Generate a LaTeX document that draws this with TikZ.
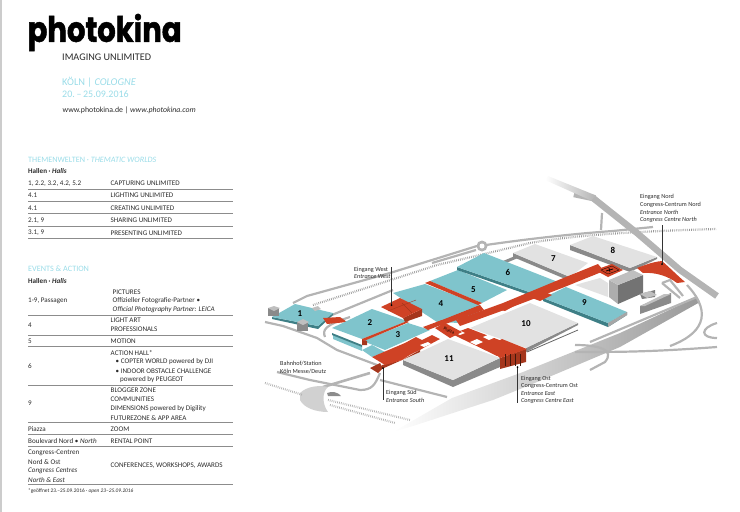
\documentclass[tikz,border=0pt]{standalone}
\usepackage{fontspec}
\setmainfont{Carlito}
\newfontfamily\logofont[BoldFeatures={FakeBold=1.6}]{Poppins}
\definecolor{tealtop}{HTML}{7FC4CC}
\definecolor{tealside}{HTML}{3E7F86}
\definecolor{greytop}{HTML}{E2E2E2}
\definecolor{greyside}{HTML}{8A8A8A}
\definecolor{redtop}{HTML}{CF4225}
\definecolor{redside}{HTML}{A5361C}
\definecolor{roadgrey}{HTML}{B4B4B4}
\definecolor{headcyan}{HTML}{9ADCE8}
\definecolor{rulegrey}{HTML}{8C8C8C}
\definecolor{txt}{HTML}{2B2B2B}
\tikzset{
  cell/.style={anchor=west,inner sep=0pt,font=\fontsize{7.1}{7.5}\selectfont,text=txt},
  head/.style={anchor=west,inner sep=0pt,font=\fontsize{8.2}{9}\selectfont,text=headcyan},
  lbl/.style={anchor=west,inner sep=0pt,font=\fontsize{6.2}{6.5}\selectfont,text=txt},
  hallno/.style={inner sep=0pt,font=\fontsize{9}{10}\selectfont\bfseries,text=black},
  road/.style={roadgrey,line width=2.2pt},
  rail/.style={black!40,line width=2.2pt,dash pattern=on 0.7pt off 1.2pt},
  leader/.style={black!80,line width=0.7pt}
}
\begin{document}
\begin{tikzpicture}[x=1pt,y=-1pt]
  \useasboundingbox (0,0) rectangle (740,512);
  \fill[black!20] (0,0) rectangle (1.6,512);
  \node[anchor=west,inner sep=0pt,xscale=0.83,font=\logofont\bfseries\fontsize{35}{37}\selectfont,text=black] (logo) at (27.5,32.5) {photokina};
  \node[anchor=west,inner sep=0pt,font=\fontsize{10.2}{11}\selectfont,text=txt] (claim) at (62,57.5) {IMAGING UNLIMITED};
  \node[head,font=\fontsize{10.4}{11}\selectfont] (city) at (62,82) {KÖLN | \textit{COLOGNE}};
  \node[head,font=\fontsize{10}{11}\selectfont] (dates) at (62,94) {20.\,–\,25.09.2016};
  \node[cell,font=\fontsize{7.8}{8}\selectfont] (web) at (62.5,110.5) {www.photokina.de | \textit{www.photokina.com}};

  \node[head] (themes) at (28,159.5) {THEMENWELTEN · \textit{THEMATIC WORLDS}};
  \node[cell] (halls1) at (28,171.3) {\textbf{Hallen · \textit{Halls}}};
  \node[cell] (a1) at (28,183.3) {1, 2.2, 3.2, 4.2, 5.2};
  \node[cell] (b1) at (110.5,183.3) {CAPTURING UNLIMITED};
  \node[cell] (a2) at (28,195.7) {4.1};
  \node[cell] (b2) at (110.5,195.7) {LIGHTING UNLIMITED};
  \node[cell] (a3) at (28,208.3) {4.1};
  \node[cell] (b3) at (110.5,208.3) {CREATING UNLIMITED};
  \node[cell] (a4) at (28,220.7) {2.1, 9};
  \node[cell] (b4) at (110.5,220.7) {SHARING UNLIMITED};
  \node[cell] (a5) at (28,233) {3.1, 9};
  \node[cell] (b5) at (110.5,233) {PRESENTING UNLIMITED};

  \node[head] (events) at (28,268.3) {EVENTS \& ACTION};
  \node[cell] (halls2) at (28,280.7) {\textbf{Hallen · \textit{Halls}}};
  \node[cell] (c1) at (28,301) {1-9, Passagen};
  \node[cell] (d1) at (112.5,292) {PICTURES};
  \node[cell] (d2) at (112.5,301) {Offizieller Fotografie-Partner •};
  \node[cell] (d3) at (112.5,310) {\textit{Official Photography Partner: LEICA}};
  \node[cell] (c2) at (28,325) {4};
  \node[cell] (d4) at (110.5,320.3) {LIGHT ART};
  \node[cell] (d5) at (110.5,329.7) {PROFESSIONALS};
  \node[cell] (c3) at (28,341.3) {5};
  \node[cell] (d6) at (110.5,341.3) {MOTION};
  \node[cell] (c4) at (28,366) {6};
  \node[cell] (d7) at (110.5,352.7) {ACTION HALL*};
  \node[cell] (d8) at (115.5,361.7) {• COPTER WORLD powered by DJI};
  \node[cell] (d9) at (115.5,371) {• INDOOR OBSTACLE CHALLENGE};
  \node[cell] (d10) at (120,380) {powered by PEUGEOT};
  \node[cell] (c5) at (28,403.5) {9};
  \node[cell] (d11) at (110.5,390.7) {BLOGGER ZONE};
  \node[cell] (d12) at (110.5,399) {COMMUNITIES};
  \node[cell] (d13) at (110.5,408.7) {DIMENSIONS powered by Digility};
  \node[cell] (d14) at (110.5,417.7) {FUTUREZONE \& APP AREA};
  \node[cell] (c6) at (28,429) {Piazza};
  \node[cell] (d15) at (110.5,429) {ZOOM};
  \node[cell] (c7) at (28,441) {Boulevard Nord • \textit{North}};
  \node[cell] (d16) at (110.5,441) {RENTAL POINT};
  \node[cell] (c8) at (28,452.7) {Congress-Centren};
  \node[cell] (c9) at (28,461.7) {Nord \& Ost};
  \node[cell] (c10) at (28,470.7) {\textit{Congress Centres}};
  \node[cell] (c11) at (28,480) {\textit{North \& East}};
  \node[cell] (d17) at (110.5,466) {CONFERENCES, WORKSHOPS, AWARDS};
  \node[cell,font=\fontsize{5.4}{6}\selectfont] (foot) at (28,490.7) {*geöffnet 23.–25.09.2016 · \textit{open 23–25.09.2016}};
  \foreach \y in {189.3,201.7,213.7,226.3,238.7,315,335,346.7,385,422.3,434.3,446.3,484.3}
    \draw[rulegrey,line width=0.7pt] (28,\y) -- (233,\y);

  % roads and rails
  \shade[left color=white,right color=roadgrey!85!black] (393,432) -- (452,398) -- (523,372) -- (620,333) -- (697,297) -- (700,302) -- (620,347) -- (530,385) -- (493,400) -- (413,426) -- cycle;
  \draw[road] (293,303) -- (307,296) -- (390,273) -- (432,260) -- (477,246);
  \draw[road] (327,317) -- (393,290);
  \draw[road] (432,263) -- (476,250);
  \draw[road] (486,245) .. controls (520,240) and (570,234) .. (613,231) -- (653,227);
  \fill[roadgrey] (482,246) circle (5.5);
  \fill[white] (482,246) circle (2.5);
  \draw[rail] (313,305) -- (397,278) -- (437,265) -- (480,255) -- (530,243) .. controls (580,234) and (650,231) .. (716,229);
  \draw[road] (602,213) -- (601,230);
  \draw[road] (265,322) -- (283,326) -- (317,338) -- (337,350) -- (377,365);
  \draw[road] (325,337) .. controls (322,330) and (325,325) .. (350,317);
  \draw[road] (277,372) -- (310,380) -- (360,390) .. controls (372,390) and (375,385) .. (380,373);
  \draw[roadgrey,line width=2.6pt] (323,387) -- (370,373);
  \draw[road] (380,380) -- (447,397);
  \fill[black!18] (300,393) .. controls (307,386) and (320,385) .. (328,387) .. controls (322,392) and (322,404) .. (328,412) .. controls (316,412) and (304,408) .. (300,400) -- cycle;
  \fill[black!45] (327,393) .. controls (332,391) and (338,392) .. (341,396) -- (328,396) -- cycle;
  \draw[rail,black!30] (265,383) -- (303,395);
  \draw[rail,black!30] (328,400) -- (410,420);
  \draw[rail,black!30] (330,405) -- (395,423);
  \draw[road] (590,342) -- (697,297);
  \draw[road] (575,352) .. controls (620,352) and (650,352) .. (717,347);
  \draw[road] (670,346) .. controls (700,335) and (715,315) .. (687,285);
  \draw[road] (575,345) .. controls (600,345) and (615,350) .. (605,362) -- (590,370);
  \draw[road] (662,283) -- (680,298);
  \draw[road] (662,283) -- (670,280) -- (683,296);
  \draw[road] (717,323) .. controls (700,328) and (700,338) .. (717,338);
  \draw[roadgrey,line width=6.5pt] (574,194) -- (593,198) -- (637,233) -- (680,270) -- (717,296);
  \shade[left color=white,right color=roadgrey] (548,176) -- (596,195.5) -- (591,200.5) -- (545,180) -- cycle;

  % hall 1
  \fill[tealside] (272,317) -- (318,326) -- (333,313) -- (333,315) -- (318,329) -- (272,319) -- cycle;
  \fill[tealtop] (272,317) -- (295,304) -- (333,313) -- (318,326) -- cycle;
  \fill[greyside] (268,308) rectangle (279,316);
  \fill[black!25] (268,308) -- (274,306) -- (280,308) -- (274,311) -- cycle;
  \fill[greyside] (297,322) rectangle (308,331);
  \fill[black!25] (297,322) -- (303,319) -- (309,322) -- (303,325) -- cycle;
  \fill[black!25] (312,308) -- (318,306) -- (321,309) -- (315,311) -- cycle;
  \fill[redtop] (323,318) -- (340,317) -- (347,322) -- (327,324) -- cycle;

  % halls 2 to 5
  \fill[tealtop] (333,335) -- (362,347) -- (362,351) -- (333,339) -- cycle;
  \fill[tealside] (332,333) -- (362,345) -- (362,347) -- (332,335) -- cycle;
  \fill[tealtop] (362,350) -- (372,357) -- (385,352) -- (372,345) -- cycle;
  \fill[tealtop] (332,328) -- (372,309) -- (407,321) -- (362,339) -- cycle;
  \fill[tealtop] (363,341) -- (408,323) -- (430,330) -- (385,350) -- cycle;
  \fill[redside] (362,339) -- (362,345) -- (367,345) -- (367,341) -- cycle;
  \fill[redtop] (362,339) -- (407,321) -- (409,322) -- (364,341) -- cycle;
  \fill[tealside] (437,322) -- (480,305) -- (480,307) -- (437,324) -- cycle;
  \fill[tealtop] (393,293) -- (425,284) -- (480,305) -- (437,322) -- cycle;
  \fill[tealtop] (430,281) -- (458,270) -- (507,290) -- (482,303) -- cycle;
  \fill[redtop] (425,283) -- (430,281) -- (482,303) -- (478,305) -- cycle;
  \fill[tealtop] (443,322) -- (472,310) -- (482,313) -- (458,323) -- cycle;

  % halls 6 to 9
  \fill[black!45] (503,261) -- (515,256) -- (518,258) -- (506,263) -- cycle;
  \fill[tealside] (457,267) -- (532,293) -- (558,282) -- (558,284) -- (532,296) -- (457,270) -- cycle;
  \fill[tealtop] (457,267) -- (484,253) -- (558,282) -- (532,293) -- cycle;
  \fill[greyside] (513,253) -- (570,277) -- (570,281) -- (513,257) -- cycle;
  \fill[greytop] (513,253) -- (535,244) -- (588,263) -- (570,277) -- cycle;
  \fill[greyside] (570,245) -- (630,268) -- (657,257) -- (657,259) -- (630,272) -- (570,250) -- cycle;
  \fill[greytop] (570,245) -- (593,236) -- (657,257) -- (630,268) -- cycle;
  \fill[tealside] (543,298) -- (608,323) -- (627,312) -- (627,315) -- (608,327) -- (543,301) -- cycle;
  \fill[tealtop] (543,298) -- (566,287) -- (627,312) -- (608,323) -- cycle;
  \fill[black!35] (608,323) -- (627,312) -- (627,315) -- (608,327) -- cycle;
  \fill[greytop] (575,285) -- (600,278) -- (608,283) -- (608,297) -- cycle;
  \fill[greyside!70] (609,280) -- (618,285) -- (618,304) -- (609,297) -- cycle;
  \fill[black!55] (618,285) -- (643,275) -- (643,293) -- (618,304) -- cycle;
  \fill[black!25] (609,280) -- (633,270) -- (643,275) -- (618,285) -- cycle;
  \fill[black!50] (640,294) -- (655,290) -- (655,297) -- (642,299) -- cycle;
  \fill[black!25] (640,294) -- (650,291) -- (657,295) -- (647,298) -- cycle;
  \fill[greyside] (640,306) -- (671,293) -- (671,303) -- (640,314) -- cycle;
  \fill[black!25] (640,306) -- (664,294) -- (671,294) -- (645,306) -- cycle;

  % boulevard and piazza
  \fill[redtop] (437,322) -- (480,305) -- (484,310) -- (440,326) -- cycle;
  \fill[redtop] (423,327) -- (442,320) -- (446,323) -- (428,330) -- cycle;
  \fill[redtop] (456,320) -- (503,303) -- (556,281) -- (598,264) -- (604,271) -- (562,288) -- (507,309) -- (460,326) -- cycle;
  \fill[redtop] (458,318) -- (466,315) -- (472,320) -- (464,323) -- cycle;
  \fill[redtop] (496,309) -- (505,303) -- (514,306) -- (505,311) -- cycle;
  \fill[redtop] (532,298) -- (545,292) -- (552,295) -- (540,301) -- cycle;
  \fill[redtop] (405,343) -- (416,337) -- (422,340) -- (432,335) -- (440,339) -- (425,347) -- (420,350) -- (403,358) -- cycle;
  \fill[redtop] (452,334) -- (468,328) -- (515,346) -- (497,356) -- cycle;
  \fill[white] (470,342) -- (477,339) -- (483,342) -- (476,345) -- cycle;
  \fill[white] (483,337) -- (490,334) -- (496,337) -- (489,340) -- cycle;
  \fill[white] (456,333) -- (461,331) -- (465,333) -- (460,335) -- cycle;
  \fill[white] (420,345) -- (428,342) -- (431,344) -- (424,347) -- cycle;
  \fill[redtop] (435,328) -- (445,323) -- (462,332) -- (450,338) -- cycle;

  % halls 10 and 11
  \fill[greyside] (526,348) -- (578,323) -- (578,325) -- (526,352) -- cycle;
  \draw[black!60,line width=0.8pt] (527,352) -- (578,330);
  \fill[greytop] (470,328) -- (530,303) -- (578,323) -- (526,348) -- cycle;
  \fill[greyside] (403,360) -- (453,380) -- (500,358) -- (500,367) -- (453,387) -- (403,365) -- cycle;
  \fill[greytop] (403,360) -- (448,339) -- (500,358) -- (453,380) -- cycle;

  % east entrance
  \fill[redside] (500,358) -- (526,349) -- (526,362) -- (500,369) -- cycle;
  \fill[redtop] (487,347) -- (502,339) -- (527,349) -- (500,358) -- cycle;
  \foreach \x in {505,510,515,520}
    \draw[black!60!redside,line width=0.4pt] (\x,354) -- (\x,366);

  % south entrance
  \fill[redside] (402,360) -- (420,350) -- (420,352) -- (384,368) -- (382,368) -- (382,365) -- cycle;
  \fill[redtop] (372,357) -- (405,343) -- (420,348) -- (402,360) -- (385,365) -- cycle;
  \fill[redside] (370,368) -- (380,363) -- (383,368) -- (378,373) -- cycle;

  % west entrance
  \fill[redside] (403,318) -- (422,309) -- (422,316) -- (405,322) -- cycle;
  \fill[redtop] (381,307) -- (400,298) -- (422,309) -- (403,318) -- cycle;
  \draw[redside,line width=0.4pt] (388,311) -- (416,300) (402,303) -- (412,313);

  % north entrance
  \fill[redtop] (637,268) .. controls (645,265) and (652,262) .. (662,261) .. controls (670,268) and (678,276) .. (685,282) -- (677,283) .. controls (668,276) and (655,272) .. (643,273) -- cycle;
  \fill[redtop] (595,270) -- (612,264) -- (623,270) -- (608,277) -- cycle;
  \draw[black,line width=0.3pt] (601,270) -- (612,266) -- (619,270) -- (608,274) -- cycle;
  \draw[black,line width=0.7pt] (606,271) -- (613,269) (609,268) -- (610,272);

  \node[hallno] (n1) at (300,314) {1};
  \node[hallno] (n2) at (370,322.5) {2};
  \node[hallno] (n3) at (398,335) {3};
  \node[hallno] (n4) at (441,304) {4};
  \node[hallno] (n5) at (473.5,290) {5};
  \node[hallno] (n6) at (508,272) {6};
  \node[hallno] (n7) at (553.5,258.5) {7};
  \node[hallno] (n8) at (613,250.5) {8};
  \node[hallno] (n9) at (584.5,302.5) {9};
  \node[hallno] (n10) at (526,324) {10};
  \node[hallno] (n11) at (449,358.5) {11};
  \node[inner sep=0pt,font=\fontsize{4.5}{5}\selectfont,text=black,rotate=-24] (piazza) at (449,330.5) {Piazza};

  \node[lbl] (west1) at (354,270) {Eingang West};
  \node[lbl] (west2) at (354,276.7) {\textit{Entrance West}};
  \node[lbl] (south1) at (386,393.3) {Eingang Süd};
  \node[lbl] (south2) at (386,400.7) {\textit{Entrance South}};
  \node[lbl] (east1) at (521,378.7) {Eingang Ost};
  \node[lbl] (east2) at (521,386) {Congress-Centrum Ost};
  \node[lbl] (east3) at (521,393.7) {\textit{Entrance East}};
  \node[lbl] (east4) at (521,400.7) {\textit{Congress Centre East}};
  \node[lbl] (north1) at (640,197.3) {Eingang Nord};
  \node[lbl] (north2) at (640,204.7) {Congress-Centrum Nord};
  \node[lbl] (north3) at (640,212) {\textit{Entrance North}};
  \node[lbl] (north4) at (640,219.5) {\textit{Congress Centre North}};
  \node[lbl] (station1) at (280,363.7) {Bahnhof/Station};
  \node[lbl] (station2) at (280,371) {Köln Messe/Deutz};

  \coordinate (westtop) at (391.5,267);
  \coordinate (westdot) at (391.5,305);
  \coordinate (southdot) at (383,368);
  \coordinate (southend) at (383,400);
  \coordinate (eastdot) at (517.5,367);
  \coordinate (eastend) at (517.5,403);
  \coordinate (northtop) at (662,225);
  \coordinate (northdot) at (662,264);
  \draw[leader] (westtop) -- (westdot);
  \draw[leader] (southdot) -- (southend);
  \draw[leader] (eastdot) -- (eastend);
  \draw[leader] (northtop) -- (northdot);
  \foreach \d in {westdot,southdot,eastdot,northdot}
    \fill[black] (\d) circle (1);
\end{tikzpicture}
\end{document}
